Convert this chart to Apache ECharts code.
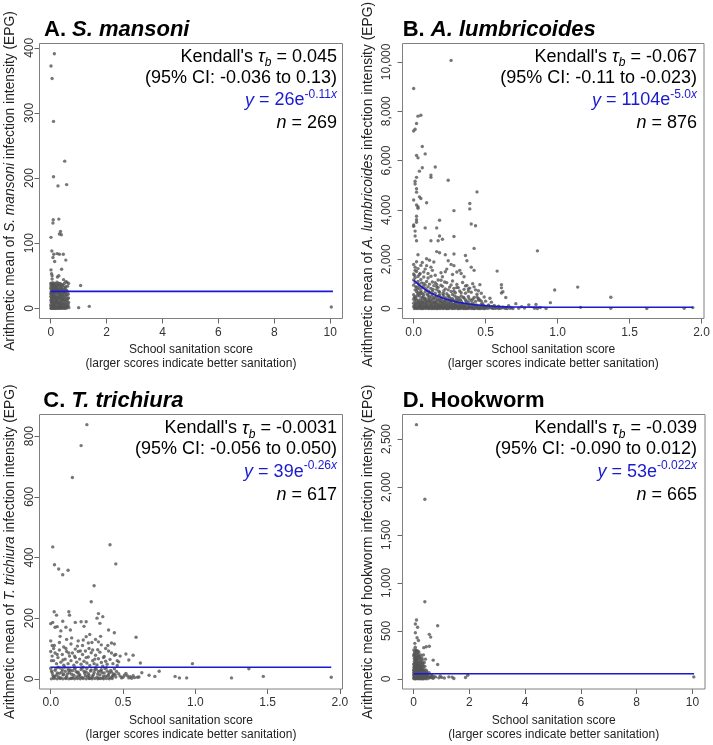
<!DOCTYPE html>
<html><head><meta charset="utf-8">
<script src="https://cdn.jsdelivr.net/npm/echarts@6/dist/echarts.min.js"></script>
<style>html,body{margin:0;padding:0;background:#fff}#c{width:713px;height:745px}</style>
</head><body><div id="c"></div>
<script>
// ---------------- DATA ----------------
const xTicksA = [0,2,4,6,8,10];
const yTicksA = [0,100,200,300,400];
const xTicksB = [0,0.5,1,1.5,2];
const yTicksB = [0,2000,4000,6000,8000,10000];
const xTicksC = [0,0.5,1,1.5,2];
const yTicksC = [0,200,400,600,800];
const xTicksD = [0,2,4,6,8,10];
const yTicksD = [0,500,1000,1500,2000,2500];

const pointsA = [
[0.13,391],[0.01,372],[0.05,353],[0.10,287],[0.50,226],[0.10,202],[0.26,188],[0.57,190],[0.29,137],[0.09,136],[0.08,131],[0.35,118],[0.31,114],[0.38,113],[0.01,109],[0.04,88],[0.11,83],[0.08,78],[0.23,84],[0.31,83],[0.45,83],[0.14,72],[0.54,74],[0.39,60],[0.01,59],[0.03,53],[0.05,50],[0.29,50],[0.24,48],[0.05,45],[0.46,44],[0.54,41],[0.58,40],[0.64,38],[1.07,35],[1.00,1],[1.38,3],[10.04,2],
[0.00,38],[0.02,36],[0.06,37],[0.09,39],[0.12,35],[0.15,38],[0.19,37],[0.22,34],[0.27,36],[0.33,38],[0.36,33],[0.41,35],[0.47,32],[0.52,30],[0.60,34],
[0.00,31],[0.03,29],[0.05,33],[0.08,30],[0.11,28],[0.14,31],[0.17,29],[0.20,32],[0.24,27],[0.28,30],[0.31,28],[0.35,26],[0.38,30],[0.43,27],[0.49,25],[0.56,28],[0.63,22],
[0.01,25],[0.02,22],[0.04,24],[0.07,21],[0.09,26],[0.12,23],[0.16,24],[0.18,20],[0.21,25],[0.25,22],[0.29,19],[0.32,23],[0.37,21],[0.40,18],[0.45,22],[0.51,19],[0.58,20],[0.61,15],
[0.00,18],[0.03,16],[0.05,19],[0.08,15],[0.10,17],[0.13,14],[0.15,18],[0.19,16],[0.22,13],[0.26,17],[0.30,14],[0.34,16],[0.39,12],[0.42,15],[0.47,13],[0.53,11],[0.59,12],[0.64,9],
[0.01,12],[0.02,9],[0.04,11],[0.06,8],[0.09,10],[0.11,7],[0.14,9],[0.17,11],[0.20,8],[0.23,10],[0.27,6],[0.31,9],[0.33,7],[0.36,10],[0.41,8],[0.44,6],[0.50,7],[0.55,5],[0.62,4],
[0.00,5],[0.02,3],[0.04,4],[0.05,1],[0.07,2],[0.10,4],[0.12,1],[0.15,3],[0.18,2],[0.21,5],[0.24,1],[0.28,3],[0.30,1],[0.34,4],[0.37,2],[0.40,1],[0.43,3],[0.48,1],[0.52,2],[0.57,1],[0.60,3],[0.65,1],
[0.01,0],[0.03,0],[0.06,0],[0.08,0],[0.13,0],[0.16,0],[0.19,0],[0.23,0],[0.26,0],[0.32,0],[0.35,0],[0.39,0],[0.45,0],[0.50,0],[0.55,0],
[0.015,34],[0.035,27],[0.055,12],[0.075,35],[0.095,20],[0.115,31],[0.135,5],[0.155,26],[0.175,14],[0.195,33],[0.215,9],[0.235,29],[0.255,16],[0.275,38],[0.295,24],[0.315,3],[0.335,19],[0.355,31],[0.375,6],[0.395,25],[0.415,13],[0.435,36],[0.455,17],[0.475,7],[0.495,28],[0.515,14],[0.535,33],[0.555,21],[0.575,9],[0.595,26],[0.615,6],[0.635,16],
[0.005,22],[0.025,14],[0.045,39],[0.065,27],[0.085,6],[0.105,35],[0.125,18],[0.145,24],[0.165,2],[0.185,30],[0.205,17],[0.225,40],[0.245,11],[0.265,26],[0.285,8],[0.305,34],[0.325,15],[0.345,21],[0.365,37],[0.385,4],[0.405,29],[0.425,20],[0.445,11],[0.465,25],[0.485,38],[0.505,3],[0.525,24],[0.545,16]
];
const fitA = [[0,26],[10.1,26]];

const pointsB = [
[0.26,10060],[0.00,8920],[0.03,7800],[0.05,7840],[0.02,7500],[0.00,7200],[0.01,7270],[0.06,6570],[0.02,6210],[0.03,6110],[0.08,6270],[0.06,5710],[0.04,5570],[0.15,5740],[0.12,5410],[0.12,5320],[0.02,5320],[0.01,5160],[0.24,5200],[0.01,5050],[0.02,4860],[0.02,4720],[0.04,4530],[0.05,4460],[0.00,4400],[0.02,4200],[0.03,4130],[0.03,4070],[0.09,4290],[0.44,4730],[0.39,4260],[0.39,4040],[0.28,3970],[0.02,3740],[0.02,3600],[0.02,3500],[0.00,3390],[0.00,3340],[0.08,3270],[0.16,3270],[0.40,3430],[0.43,3360],[0.18,3580],[0.01,3140],[0.01,2940],[0.02,2750],[0.18,2940],[0.20,2810],[0.17,2750],[0.28,2920],[0.12,2750],[0.42,2440],[0.16,2310],[0.18,2260],[0.03,2180],[0.22,2180],[0.28,2210],[0.11,1960],[0.09,2020],[0.14,1890],[0.36,2150],[0.37,1940],[0.00,1790],[0.01,1680],[0.06,1870],[0.09,1740],[0.12,1680],[0.24,1940],[0.26,1790],[0.28,1740],[0.58,1520],[0.40,1680],[0.42,1550],[0.32,1550],[0.33,1420],[0.35,1290],[0.22,1490],[0.20,1290],[0.17,1160],[0.61,970],[0.61,840],[0.62,680],[0.46,970],[0.00,1160],[0.98,750],[1.14,870],[1.37,460],[0.86,2340],[0.71,200],[0.80,150],[0.85,170],[0.95,240],[0.64,450],[0.61,630],[0.62,60],[0.68,30],[0.75,80],[0.77,20],[0.84,10],[0.88,40],[0.92,5],[1.16,50],[1.37,10],[1.62,5],[1.88,10],[1.94,40],[0.55,10],[0.57,40],[0.66,120],[0.73,10],[0.86,0],[0.52,120],[0.50,60],[0.48,200],[0.45,350],[0.44,580],[0.38,800],
[0.01,1250],[0.03,1100],[0.05,1180],[0.07,1020],[0.10,1240],[0.13,1080],[0.16,980],[0.19,1150],[0.23,1050],[0.27,1120],[0.30,980],[0.34,1060],[0.37,940],[0.41,1010],
[0.00,950],[0.02,870],[0.04,920],[0.06,840],[0.08,960],[0.10,880],[0.12,820],[0.14,930],[0.17,860],[0.20,900],[0.22,800],[0.25,870],[0.28,820],[0.31,850],[0.35,780],[0.39,830],[0.43,760],
[0.01,760],[0.02,690],[0.03,640],[0.05,720],[0.06,610],[0.08,680],[0.09,750],[0.11,640],[0.13,700],[0.15,620],[0.16,770],[0.18,660],[0.21,720],[0.23,600],[0.26,690],[0.29,640],[0.32,710],[0.36,620],[0.40,660],[0.47,620],
[0.00,560],[0.01,480],[0.03,590],[0.04,510],[0.06,450],[0.07,560],[0.08,420],[0.10,530],[0.11,470],[0.13,580],[0.14,410],[0.16,500],[0.18,550],[0.19,440],[0.21,480],[0.24,530],[0.25,420],[0.27,570],[0.30,460],[0.33,510],[0.35,430],[0.38,490],[0.42,450],[0.45,410],[0.49,470],[0.53,420],
[0.00,380],[0.01,300],[0.02,350],[0.04,270],[0.05,390],[0.06,320],[0.08,360],[0.09,280],[0.10,340],[0.12,300],[0.13,390],[0.15,260],[0.17,330],[0.18,370],[0.20,290],[0.22,350],[0.23,260],[0.25,320],[0.27,380],[0.29,280],[0.31,340],[0.33,300],[0.36,360],[0.38,270],[0.40,330],[0.43,290],[0.46,350],[0.50,300],[0.54,260],
[0.00,220],[0.01,150],[0.02,240],[0.03,180],[0.04,120],[0.05,200],[0.06,160],[0.07,230],[0.08,110],[0.09,190],[0.10,140],[0.11,240],[0.12,170],[0.13,120],[0.14,210],[0.15,150],[0.16,230],[0.17,100],[0.18,180],[0.19,130],[0.20,220],[0.21,160],[0.22,110],[0.23,200],[0.24,140],[0.25,240],[0.26,120],[0.27,180],[0.28,150],[0.29,220],[0.30,110],[0.31,170],[0.32,130],[0.34,210],[0.35,150],[0.37,190],[0.39,120],[0.41,230],[0.42,160],[0.44,130],[0.47,180],[0.49,110],[0.52,150],[0.56,130],[0.59,100],
[0.00,80],[0.01,30],[0.02,60],[0.03,10],[0.04,90],[0.05,40],[0.06,70],[0.07,20],[0.08,50],[0.09,85],[0.10,15],[0.11,45],[0.12,75],[0.13,25],[0.14,55],[0.15,90],[0.16,5],[0.17,65],[0.18,35],[0.19,80],[0.20,10],[0.21,50],[0.22,70],[0.23,20],[0.24,60],[0.25,40],[0.26,85],[0.27,15],[0.28,55],[0.29,30],[0.30,75],[0.31,5],[0.32,45],[0.33,65],[0.34,20],[0.35,50],[0.36,80],[0.37,10],[0.38,40],[0.39,60],[0.40,25],[0.41,70],[0.42,5],[0.43,45],[0.44,30],[0.45,60],[0.46,15],[0.47,50],[0.48,35],[0.49,20],[0.50,45],[0.51,10],[0.53,30],[0.54,55],[0.56,20],[0.58,35],[0.60,10],[0.63,25],[0.65,5],[0.67,15],
[0.005,0],[0.025,0],[0.045,0],[0.065,0],[0.085,0],[0.105,0],[0.125,0],[0.145,0],[0.165,0],[0.185,0],[0.205,0],[0.225,0],[0.245,0],[0.265,0],[0.285,0],[0.305,0],[0.325,0],[0.345,0],[0.365,0],[0.385,0],[0.405,0],[0.425,0],[0.445,0],[0.465,0],[0.485,0],
[0.015,20],[0.035,45],[0.055,5],[0.075,35],[0.095,55],[0.115,25],[0.135,8],[0.155,40],[0.175,18],[0.195,52],[0.215,28],[0.235,3],[0.255,42],[0.275,22],[0.295,58],[0.315,12],[0.335,38],[0.355,2],[0.375,26],[0.395,48],[0.415,16],[0.435,55],[0.455,6],[0.475,32],[0.495,4],[0.52,22],[0.55,8],[0.57,15],[0.59,3],[0.61,20],[0.64,8],[0.69,3],
[0.005,120],[0.015,190],[0.025,95],[0.035,260],[0.045,170],[0.055,110],[0.065,250],[0.075,140],[0.085,200],[0.095,105],[0.105,270],[0.115,130],[0.125,210],[0.135,90],[0.145,250],[0.155,120],[0.165,190],[0.175,140],[0.185,260],[0.195,95],[0.205,180],[0.215,240],[0.225,130],[0.235,80],[0.245,190],[0.255,110],[0.265,230],[0.275,95],[0.285,170],[0.295,130],[0.305,250],[0.315,90],[0.325,190],[0.335,120],[0.345,160],[0.355,100],[0.365,230],[0.375,140],[0.385,90],[0.395,180],[0.405,120],[0.415,95],[0.435,150],[0.455,100],[0.48,140],[0.51,90],[0.54,80],
[0.005,450],[0.015,410],[0.025,520],[0.035,330],[0.045,600],[0.055,270],[0.065,480],[0.075,390],[0.085,300],[0.095,580],[0.105,420],[0.115,350],[0.125,500],[0.135,280],[0.145,460],[0.155,340],[0.165,410],[0.175,520],[0.185,290],[0.195,380],[0.205,560],[0.215,300],[0.225,430],[0.235,360],[0.245,490],[0.255,280],[0.265,400],[0.275,330],[0.285,510],[0.295,370],[0.305,290],[0.315,440],[0.325,360],[0.345,460],[0.365,300],[0.385,400],[0.41,380],[0.44,470],[0.47,300],
[0.005,1350],[0.01,1050],[0.015,880],[0.02,1500],[0.025,780],[0.03,1300],[0.035,990],[0.04,820],[0.045,1420],[0.05,650],[0.055,1040],[0.065,900],[0.07,1280],[0.08,820],[0.09,1100],[0.105,700],[0.11,990],[0.12,1310],[0.135,780],[0.15,1050],[0.16,880],[0.175,700],[0.19,950],[0.205,620],[0.215,1080],[0.24,760],[0.26,960],[0.28,700],[0.30,850],[0.33,640],[0.36,920],[0.38,700],[0.42,880],[0.45,720],
[0.00,1400],[0.01,1550],[0.02,1900],[0.03,1620],[0.04,1380],[0.05,1750],[0.07,1480],[0.08,1600],[0.10,1420],[0.13,1550],[0.15,1350],[0.19,1450],[0.23,1600],[0.27,1380],[0.30,1480]
];
const fitB = [[0,1150],[0.04,950],[0.08,770],[0.12,630],[0.17,500],[0.22,390],[0.29,280],[0.35,215],[0.40,175],[0.46,135],[0.52,105],[0.6,80],[0.7,65],[0.85,57],[1.0,55],[1.94,52]];

const pointsC = [
[0.25,838],[0.21,769],[0.15,664],[0.014,435],[0.41,442],[0.45,379],[0.026,376],[0.055,362],[0.083,343],[0.12,358],[0.30,307],[0.28,254],[0.024,221],[0.04,210],[0.014,186],[0.0,182],[0.125,221],[0.13,210],[0.083,190],[0.17,186],[0.21,188],[0.33,215],[0.36,205],[0.32,200],[0.045,172],[0.03,170],[0.07,158],[0.105,170],[0.136,161],[0.245,188],[0.23,173],[0.34,183],[0.27,146],[0.245,139],[0.33,122],[0.40,161],[0.44,152],[0.59,137],
[0.0,125],[0.01,110],[0.02,100],[0.06,120],[0.09,105],[0.11,130],[0.14,115],[0.17,98],[0.19,125],[0.22,110],[0.26,118],[0.29,95],[0.31,130],[0.35,112],[0.38,100],[0.42,118],[0.45,80],[0.48,75],[0.52,82],[0.54,62],[0.57,78],[0.62,52],[0.98,50],[0.75,25],[0.86,8],[0.89,3],[0.94,3],[1.25,3],[1.37,33],[1.47,8],[1.94,5],[0.68,12],[0.72,8],[0.63,20],[0.60,5],[0.56,2],[0.53,10],[0.50,5],
[0.00,90],[0.01,75],[0.02,60],[0.03,85],[0.04,50],[0.05,70],[0.06,95],[0.07,55],[0.08,80],[0.09,45],[0.10,65],[0.11,90],[0.12,50],[0.13,75],[0.14,60],[0.15,85],[0.16,45],[0.17,70],[0.18,55],[0.19,90],[0.20,65],[0.21,48],[0.22,80],[0.23,58],[0.24,92],[0.25,52],[0.26,72],[0.27,44],[0.28,86],[0.29,60],[0.30,50],[0.31,78],[0.32,46],[0.33,66],[0.34,88],[0.35,54],[0.36,42],[0.37,74],[0.38,58],[0.39,48],[0.40,92],[0.41,64],[0.43,50],[0.44,78],[0.46,44],[0.47,56],
[0.00,35],[0.01,20],[0.02,5],[0.03,28],[0.04,12],[0.05,38],[0.06,18],[0.07,3],[0.08,30],[0.09,15],[0.10,25],[0.11,8],[0.12,33],[0.13,20],[0.14,2],[0.15,27],[0.16,12],[0.17,36],[0.18,6],[0.19,22],[0.20,14],[0.21,31],[0.22,4],[0.23,25],[0.24,10],[0.25,34],[0.26,17],[0.27,2],[0.28,29],[0.29,9],[0.30,21],[0.31,37],[0.32,5],[0.33,24],[0.34,13],[0.35,30],[0.36,3],[0.37,19],[0.38,8],[0.39,26],[0.40,14],[0.41,4],[0.42,22],[0.43,11],[0.44,33],[0.45,6],[0.47,17],[0.49,3],[0.51,12],[0.55,7],[0.58,4],
[0.005,0],[0.025,1],[0.045,0],[0.065,1],[0.085,0],[0.105,1],[0.125,0],[0.145,1],[0.165,0],[0.185,1],[0.205,0],[0.225,1],[0.245,0],[0.265,1],[0.285,0],[0.305,1],[0.325,0],[0.345,1],[0.365,0],[0.385,1],[0.405,0],[0.425,1],
[0.015,12],[0.035,33],[0.055,6],[0.075,22],[0.095,38],[0.115,16],[0.135,29],[0.155,4],[0.175,24],[0.195,11],[0.215,36],[0.235,18],[0.255,7],[0.275,26],[0.295,14],[0.315,32],[0.335,2],[0.355,20],[0.375,34],[0.395,10],[0.415,28],[0.435,16],[0.455,24],[0.48,9],[0.52,18],[0.54,3],[0.57,10],[0.61,6],
[0.005,26],[0.025,8],[0.045,19],[0.065,36],[0.085,13],[0.105,3],[0.125,27],[0.145,15],[0.165,33],[0.185,20],[0.205,6],[0.225,38],[0.245,23],[0.265,11],[0.285,4],[0.305,30],[0.325,16],[0.345,26],[0.365,9],[0.385,37],[0.405,21],[0.425,7],[0.445,14],
[0.005,60],[0.025,110],[0.045,80],[0.065,140],[0.085,62],[0.105,100],[0.125,85],[0.145,135],[0.165,75],[0.185,108],[0.205,92],[0.225,128],[0.245,70],[0.265,100],[0.285,120],[0.305,65],[0.325,96],[0.345,140],[0.365,70],[0.395,110],[0.42,85],[0.44,115],[0.46,60]
];
const fitC = [[0,38],[1.94,38]];

const pointsD = [
[0.10,2650],[0.40,1873],[0.40,804],[0.10,613],[0.06,571],[0.86,553],[0.14,538],[0.56,464],[0.61,435],[0.06,480],[0.12,428],[0.17,400],[0.04,370],[0.45,334],[0.36,325],[0.56,340],[0.08,300],[0.15,265],[0.70,195],[0.86,150],[0.42,205],[0.30,170],[0.78,20],[1.00,15],[1.26,20],[1.38,18],[1.44,3],[1.86,14],[1.94,38],[10.05,20],[0.90,10],[1.10,8],[0.95,30],[0.65,40],[0.72,25],
[0.00,240],[0.02,210],[0.03,250],[0.05,190],[0.07,230],[0.09,170],[0.11,220],[0.13,200],[0.16,180],[0.18,240],[0.20,160],[0.22,210],[0.25,190],[0.28,150],[0.31,200],[0.34,140],
[0.00,150],[0.01,120],[0.02,160],[0.04,130],[0.06,110],[0.08,145],[0.10,125],[0.12,100],[0.14,135],[0.17,115],[0.19,140],[0.21,105],[0.24,130],[0.27,110],[0.29,95],[0.33,120],[0.37,100],[0.40,130],[0.45,90],
[0.00,90],[0.01,70],[0.03,85],[0.05,60],[0.06,95],[0.08,75],[0.10,55],[0.11,88],[0.13,65],[0.15,80],[0.17,50],[0.19,72],[0.22,90],[0.24,58],[0.26,78],[0.29,62],[0.32,85],[0.35,55],[0.38,70],[0.42,60],[0.47,75],[0.50,50],[0.55,65],
[0.00,40],[0.01,20],[0.02,45],[0.03,10],[0.04,30],[0.06,15],[0.07,42],[0.09,25],[0.11,5],[0.12,35],[0.14,18],[0.16,40],[0.18,8],[0.20,28],[0.23,12],[0.25,38],[0.27,22],[0.30,5],[0.33,30],[0.36,15],[0.39,35],[0.43,10],[0.46,25],[0.50,18],[0.55,8],[0.60,20],[0.66,12],[0.70,5],
[0.00,5],[0.02,0],[0.05,2],[0.08,0],[0.13,3],[0.17,0],[0.21,2],[0.26,0],[0.31,1],[0.35,0],[0.41,2],[0.48,0],
[0.005,300],[0.015,260],[0.025,180],[0.035,280],[0.045,220],[0.055,330],[0.065,160],[0.075,270],[0.085,200],[0.095,290],[0.105,150],[0.115,250],[0.125,170],[0.135,230],[0.145,290],[0.155,140],[0.165,210],[0.175,160],[0.185,280],[0.195,120],[0.215,230],[0.235,170],[0.255,250],[0.27,130],[0.29,220],[0.32,160],[0.35,250],[0.38,170],
[0.005,60],[0.015,100],[0.025,30],[0.035,120],[0.045,80],[0.055,25],[0.065,140],[0.075,60],[0.085,110],[0.095,35],[0.105,90],[0.115,130],[0.125,45],[0.135,100],[0.145,70],[0.155,20],[0.165,115],[0.175,85],[0.185,45],[0.195,105],[0.205,65],[0.225,125],[0.245,40],[0.265,95],[0.285,30],[0.31,100],[0.34,45],[0.37,80],[0.41,35],[0.44,55],[0.48,30],[0.52,40],[0.58,15],[0.63,30]
];
const fitD = [[0,53],[10.06,53]];

const titlesLetter = ['A. ','B. ','C. ','D. '];
const titlesName = ['S. mansoni','A. lumbricoides','T. trichiura','Hookworm'];
const titleItalic = [true,true,true,false];
const tauValues = ['0.045','-0.067','-0.0031','-0.039'];
const ciTexts = ['(95% CI: -0.036 to 0.13)','(95% CI: -0.11 to -0.023)','(95% CI: -0.056 to 0.050)','(95% CI: -0.090 to 0.012)'];
const fitCoef = ['26','1104','39','53'];
const fitExp = ['-0.11','-5.0','-0.26','-0.022'];
const nValues = ['269','876','617','665'];
const yNames = [
  'Arithmetic mean of {i|S. mansoni} infection intensity (EPG)',
  'Arithmetic mean of {i|A. lumbricoides} infection intensity (EPG)',
  'Arithmetic mean of {i|T. trichiura} infection intensity (EPG)',
  'Arithmetic mean of hookworm infection intensity (EPG)'
];
const xName = 'School sanitation score\n(larger scores indicate better sanitation)';

// ---------------- LAYOUT (pixels) ----------------
const FONT = '"Liberation Sans", Arial, Helvetica, sans-serif';
const layout = [
  {frame:[39.5,43.5,303,275],   xdec:0, labM:3.5, nameG:22, textR:337, textY:[57,77.7,100.5,123.3],   titleX:44,    titleY:29.5},
  {frame:[402.5,43.5,301.5,275], xdec:1, labM:10,  nameG:27, textR:697, textY:[57,77.7,100.5,123.3],   titleX:402.7, titleY:29.5},
  {frame:[39.5,414.5,303,274.5], xdec:1, labM:3.5, nameG:22, textR:337, textY:[428.5,449.2,472,494.8], titleX:43.3,  titleY:401.3},
  {frame:[402.5,414.5,302.5,274.5], xdec:0, labM:10, nameG:27, textR:697, textY:[428.5,449.2,472,494.8], titleX:402.7, titleY:401.3}
];
const pts = [pointsA, pointsB, pointsC, pointsD];
const fits = [fitA, fitB, fitC, fitD];
const xT = [xTicksA, xTicksB, xTicksC, xTicksD];
const yT = [yTicksA, yTicksB, yTicksC, yTicksD];

// R-style 4% padding of the data range
function padded(arr, k) {
  let lo = Infinity, hi = -Infinity;
  arr.forEach(p => { lo = Math.min(lo, p[k]); hi = Math.max(hi, p[k]); });
  const d = (hi - lo) * 0.04;
  return [lo - d, hi + d];
}

const grids = [], xAxes = [], yAxes = [], series = [], graphics = [];
const labelColor = '#333', tickColor = '#666', frameColor = '#808080';
const blue = '#1a1ad0';

layout.forEach((L, i) => {
  const f = L.frame;
  grids.push({left:f[0], top:f[1], width:f[2], height:f[3], show:false, containLabel:false});
  const xt = xT[i], yt = yT[i];
  const xr = padded(pts[i], 0), yr = padded(pts[i], 1);
  xAxes.push({
    gridIndex:i, type:'value', position:'bottom', min:xr[0], max:xr[1],
    axisLine:{show:false, onZero:false}, splitLine:{show:false},
    axisTick:{show:true, inside:false, length:5, customValues:xt, lineStyle:{color:tickColor, width:1}},
    axisLabel:{customValues:xt, margin:8, color:labelColor, fontSize:12, fontFamily:FONT,
      formatter: v => L.xdec ? Number(v).toFixed(1) : String(v)},
    name:xName, nameLocation:'middle', nameGap:24.5,
    nameTextStyle:{fontSize:12, fontFamily:FONT, color:'#222', lineHeight:14}
  });
  yAxes.push({
    gridIndex:i, type:'value', position:'left', min:yr[0], max:yr[1],
    axisLine:{show:false, onZero:false}, splitLine:{show:false},
    axisTick:{show:true, inside:false, length:5, customValues:yt, lineStyle:{color:tickColor, width:1}},
    axisLabel:{customValues:yt, rotate:90, margin:L.labM, color:labelColor, fontSize:12, fontFamily:FONT,
      formatter: v => Number(v).toLocaleString('en-US')},
    name:yNames[i], nameLocation:'middle', nameGap:L.nameG,
    nameTextStyle:{fontSize:13.8, fontFamily:FONT, color:'#222',
      rich:{i:{fontStyle:'italic', fontSize:13.8, fontFamily:FONT, color:'#222'}}}
  });
  series.push({
    type:'scatter', xAxisIndex:i, yAxisIndex:i, data:pts[i], clip:false,
    symbol:'circle', symbolSize:3.4, itemStyle:{color:'#555'}, silent:true, z:2
  });
  series.push({
    type:'line', xAxisIndex:i, yAxisIndex:i, data:fits[i], clip:false, smooth:i===1,
    showSymbol:false, symbol:'none', lineStyle:{color:blue, width:1.6}, silent:true, z:3
  });
  graphics.push({type:'rect', silent:true, z:1,
    shape:{x:f[0], y:f[1], width:f[2], height:f[3]},
    style:{fill:'none', stroke:frameColor, lineWidth:1}});
  graphics.push({type:'text', silent:true, x:L.titleX, y:L.titleY,
    style:{text:'{b|' + titlesLetter[i] + '}{' + (titleItalic[i] ? 'bi' : 'b') + '|' + titlesName[i] + '}',
      align:'left', verticalAlign:'middle', fill:'#000',
      font:'bold 22px ' + FONT,
      rich:{b:{fontWeight:'bold', fontSize:22, fontFamily:FONT, fill:'#000'},
            bi:{fontWeight:'bold', fontStyle:'italic', fontSize:22, fontFamily:FONT, fill:'#000'}}}});
  const R = L.textR;
  const base = {fontSize:18, fontFamily:FONT, fill:'#000'};
  graphics.push({type:'text', silent:true, x:R, y:L.textY[0],
    style:{text:"Kendall's {t|\u03c4}{s|b} = " + tauValues[i], align:'right', verticalAlign:'middle',
      fontSize:18, fontFamily:FONT, fill:'#000', lineHeight:24,
      rich:{t:Object.assign({}, base, {fontStyle:'italic', lineHeight:24}),
            s:{fontSize:12, fontFamily:FONT, fontStyle:'italic', fill:'#000', lineHeight:12, verticalAlign:'bottom'}}}});
  graphics.push({type:'text', silent:true, x:R, y:L.textY[1],
    style:{text:ciTexts[i], align:'right', verticalAlign:'middle', fontSize:18, fontFamily:FONT, fill:'#000'}});
  graphics.push({type:'text', silent:true, x:R, y:L.textY[2],
    style:{text:'{yi|y} = ' + fitCoef[i] + 'e{sp|' + fitExp[i] + '}{spi|x}', align:'right', verticalAlign:'middle',
      fontSize:18, fontFamily:FONT, fill:blue, lineHeight:24,
      rich:{yi:{fontSize:18, fontFamily:FONT, fontStyle:'italic', fill:blue, lineHeight:24},
            sp:{fontSize:12, fontFamily:FONT, fill:blue, lineHeight:12, verticalAlign:'top'},
            spi:{fontSize:12, fontFamily:FONT, fontStyle:'italic', fill:blue, lineHeight:12, verticalAlign:'top'}}}});
  graphics.push({type:'text', silent:true, x:R, y:L.textY[3],
    style:{text:'{ni|n} = ' + nValues[i], align:'right', verticalAlign:'middle',
      fontSize:18, fontFamily:FONT, fill:'#000',
      rich:{ni:{fontSize:18, fontFamily:FONT, fontStyle:'italic', fill:'#000'}}}});
});

const chart = echarts.init(document.getElementById('c'), null, {renderer:'canvas'});
chart.setOption({
  animation:false,
  backgroundColor:'#fff',
  grid:grids, xAxis:xAxes, yAxis:yAxes, series:series, graphic:graphics
});
</script></body></html>
